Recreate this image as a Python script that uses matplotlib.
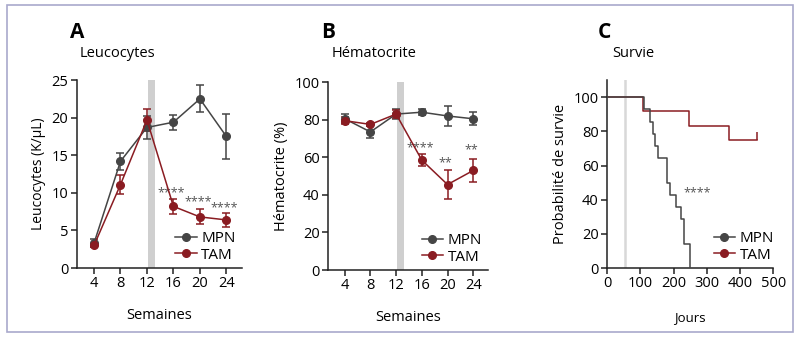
import matplotlib
matplotlib.use("Agg")
import matplotlib.pyplot as plt
from matplotlib.patches import Rectangle
from matplotlib.lines import Line2D

plt.rcParams['font.family'] = ['Open Sans', 'DejaVu Sans']

# data
weeks = [4, 8, 12, 16, 20, 24]

leuco_mpn = [3.3, 14.2, 18.7, 19.4, 22.5, 17.5]
leuco_mpn_err = [0.5, 1.1, 1.5, 1.0, 1.8, 3.0]
leuco_tam = [3.0, 11.1, 19.7, 8.2, 6.8, 6.4]
leuco_tam_err = [0.2, 1.3, 1.5, 1.0, 1.0, 0.9]
leuco_stars = ['', '', '', '****', '****', '****']
leuco_star_y = [0, 0, 0, 10.0, 8.8, 8.0]

hemato_mpn = [80.5, 73.5, 83.0, 84.0, 82.0, 80.5]
hemato_mpn_err = [2.5, 3.0, 2.5, 1.5, 5.5, 3.5]
hemato_tam = [79.5, 77.5, 83.0, 58.5, 45.5, 53.0]
hemato_tam_err = [2.0, 1.0, 2.0, 3.0, 7.5, 6.0]
hemato_stars = ['', '', '', '****', '**', '**']
hemato_star_y = [0, 0, 0, 65.0, 57.0, 64.0]

surv_mpn_days = [0, 112, 129, 139, 144, 154, 179, 188, 207, 223, 230, 250]
surv_mpn = [100, 92.9, 85.7, 78.6, 71.4, 64.3, 50.0, 42.9, 35.7, 28.6, 14.3, 0]
surv_tam_days = [0, 109, 245, 366, 452]
surv_tam = [100, 91.7, 83.3, 75.0, 75.0]
surv_tam_censor_day = [452]
surv_tam_censor = [75.0]

C_MPN = '#454545'
C_TAM = '#8a1c22'
C_BAND = '#cfcfcf'
C_STAR = '#555555'

fig = plt.figure(figsize=(8, 3.38), dpi=100)
fig.patches.append(Rectangle((0.009, 0.018), 0.982, 0.968, transform=fig.transFigure,
                             fill=False, edgecolor='#a9a9cc', linewidth=1.2))

axA = fig.add_axes([0.096, 0.207, 0.206, 0.556])
axB = fig.add_axes([0.41, 0.201, 0.2, 0.556])
axC = fig.add_axes([0.759, 0.207, 0.2075, 0.556])

handles = [Line2D([], [], color=C_MPN, marker='o', ms=5.5, lw=1.1),
           Line2D([], [], color=C_TAM, marker='o', ms=5.5, lw=1.1)]


def style(ax):
    for s in ['top', 'right']:
        ax.spines[s].set_visible(False)
    for s in ['left', 'bottom']:
        ax.spines[s].set_linewidth(1.1)
        ax.spines[s].set_color('#222222')
    ax.tick_params(labelsize=10.5, length=4, width=1.1, color='#222222', pad=2)


def add_legend(ax, dx=1.02):
    ax.legend(handles, ['MPN', 'TAM'], loc='lower right', bbox_to_anchor=(dx, -0.02),
              frameon=False, fontsize=11, handlelength=1.4, handletextpad=0.3,
              labelspacing=0.1, borderaxespad=0.2)


def weekly(ax, mpn, mpn_err, tam, tam_err, stars, star_y):
    ax.axvspan(12.1, 13.2, color=C_BAND, zorder=0, lw=0)
    ax.errorbar(weeks, mpn, yerr=mpn_err, color=C_MPN, marker='o', ms=5.5,
                lw=1.1, capsize=3, elinewidth=1.1, capthick=1.1, zorder=3)
    ax.errorbar(weeks, tam, yerr=tam_err, color=C_TAM, marker='o', ms=5.5,
                lw=1.1, capsize=3, elinewidth=1.1, capthick=1.1, zorder=3)
    for w, s, y in zip(weeks, stars, star_y):
        if s:
            ax.text(w - 0.3, y, s, ha='center', va='center', fontsize=9, color=C_STAR)
    ax.set_xlim(1.4, 26.3)
    ax.set_xticks(weeks)
    ax.set_xlabel('Semaines', fontsize=10.5, labelpad=12)
    style(ax)
    add_legend(ax)


weekly(axA, leuco_mpn, leuco_mpn_err, leuco_tam, leuco_tam_err, leuco_stars, leuco_star_y)
axA.set_ylim(0, 25)
axA.set_yticks([0, 5, 10, 15, 20, 25])
axA.set_ylabel('Leucocytes (K/µL)', fontsize=10)

weekly(axB, hemato_mpn, hemato_mpn_err, hemato_tam, hemato_tam_err, hemato_stars, hemato_star_y)
axB.set_ylim(0, 100)
axB.set_yticks([0, 20, 40, 60, 80, 100])
axB.set_ylabel('Hématocrite (%)', fontsize=10.5)

# survival
axC.axvline(55, color='#d8d8d8', lw=1.8, zorder=0)
axC.step(surv_mpn_days, surv_mpn, where='post', color=C_MPN, lw=1.1, zorder=3)
axC.step(surv_tam_days, surv_tam, where='post', color=C_TAM, lw=1.1, zorder=2)
axC.plot(surv_tam_censor_day, surv_tam_censor, linestyle='none', marker=2, ms=6,
         mew=1.1, color=C_TAM)
axC.text(271, 44, '****', ha='center', va='center', fontsize=9, color=C_STAR)
axC.set_xlim(0, 500)
axC.set_ylim(0, 110)
axC.set_xticks([0, 100, 200, 300, 400, 500])
axC.set_yticks([0, 20, 40, 60, 80, 100])
axC.set_xlabel('Jours', fontsize=9.5, labelpad=14)
axC.set_ylabel('Probabilité de survie', fontsize=10.5)
style(axC)
add_legend(axC, dx=1.06)

# panel letters and titles
for x, letter in [(0.087, 'A'), (0.402, 'B'), (0.747, 'C')]:
    fig.text(x, 0.905, letter, fontsize=15, fontweight='bold', va='center')
for x, title in [(0.099, 'Leucocytes'), (0.415, 'Hématocrite'), (0.765, 'Survie')]:
    fig.text(x, 0.843, title, fontsize=10.5, va='center')

fig.savefig('out.png', dpi=100)
